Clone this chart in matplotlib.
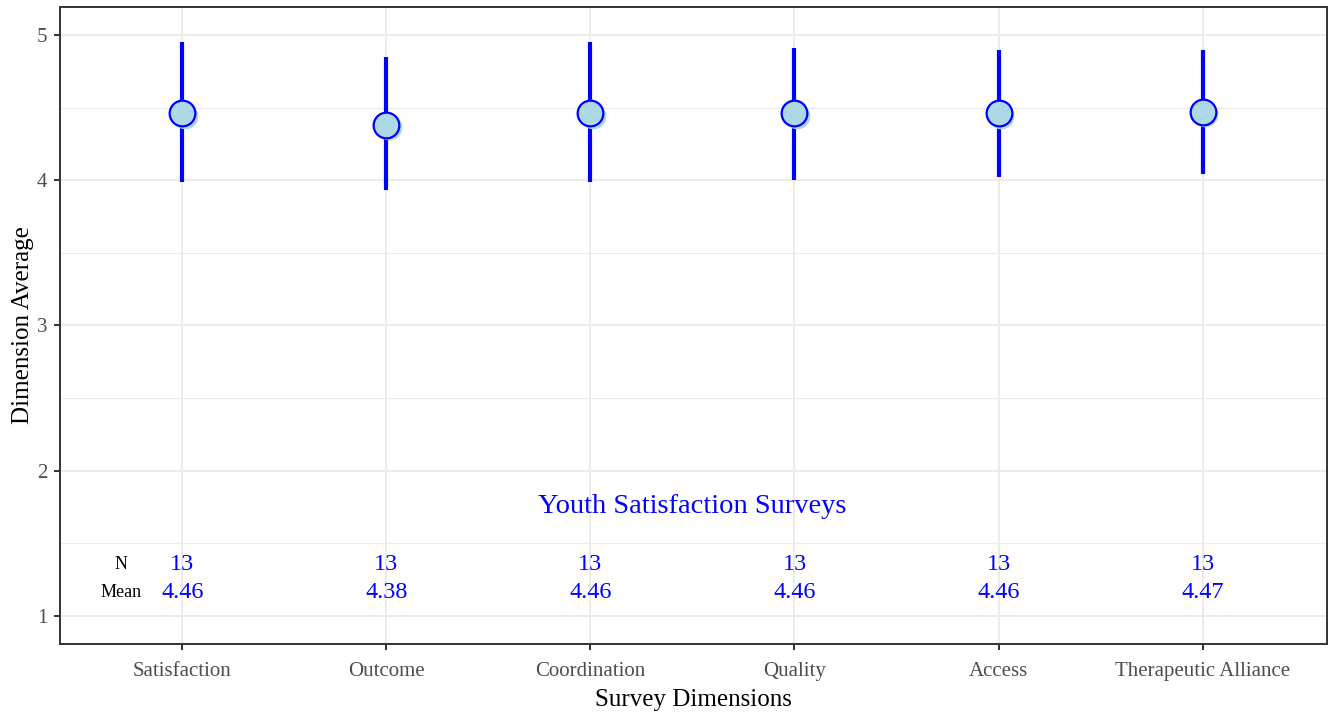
import matplotlib
matplotlib.use("Agg")
import matplotlib.pyplot as plt
import matplotlib.transforms as mtransforms
import numpy as np

# Survey dimension summaries
dimensions = ["Satisfaction", "Outcome", "Coordination", "Quality", "Access",
              "Therapeutic Alliance"]
means = [4.46, 4.38, 4.46, 4.46, 4.46, 4.47]
lower = [3.99, 3.93, 3.99, 4.00, 4.02, 4.04]
upper = [4.95, 4.85, 4.95, 4.91, 4.90, 4.90]
counts = [13, 13, 13, 13, 13, 13]
title_text = "Youth Satisfaction Surveys"

plt.rcParams['font.family'] = ['Liberation Serif', 'DejaVu Serif']

fig = plt.figure(figsize=(13.28, 7.14), dpi=100)
ax = fig.add_axes([60 / 1328, 1 - 644 / 714, 1267 / 1328, 637 / 714])

x = np.arange(1, len(dimensions) + 1)

# grid
for yv in [1, 2, 3, 4, 5]:
    ax.axhline(yv, color="#ebebeb", lw=1.4, zorder=0)
for yv in [1.5, 2.5, 3.5, 4.5]:
    ax.axhline(yv, color="#ebebeb", lw=0.8, zorder=0)
for xv in x:
    ax.axvline(xv, color="#ebebeb", lw=1.4, zorder=0)

# error bars
ax.vlines(x, lower, upper, color="#0000ff", lw=3.0, zorder=2)

# soft shadow behind each point
shadow = mtransforms.offset_copy(ax.transData, fig=fig, x=1.6, y=-1.6, units='points')
ax.plot(x, means, "o", ms=18.5, mfc="#add8e6", mec="#add8e6", mew=0,
        transform=shadow, zorder=3)
ax.plot(x, means, "o", ms=18.5, mfc="#add8e6", mec="#0000ff", mew=1.6, zorder=4)

# N / Mean annotations
for xi, n, m in zip(x, counts, means):
    ax.text(xi, 1.352, f"{n}", color="#0000ff", fontsize=17.5, ha="center", va="center")
    ax.text(xi, 1.160, f"{m:.2f}", color="#0000ff", fontsize=17.5, ha="center", va="center")
ax.text(0.70, 1.352, "N", color="black", fontsize=13, ha="center", va="center")
ax.text(0.70, 1.160, "Mean", color="black", fontsize=13, ha="center", va="center")

ax.text(3.5, 1.755, title_text, color="#0000ff", fontsize=20.5, ha="center", va="center")

ax.set_xlim(0.4, 6.61)
ax.set_ylim(0.807, 5.193)
ax.set_xticks(x)
ax.set_xticklabels(dimensions)
ax.set_yticks([1, 2, 3, 4, 5])
ax.tick_params(axis="both", colors="#333333", length=4, width=1.4,
               labelcolor="#4d4d4d", labelsize=15)
ax.tick_params(axis="x", pad=9)
ax.tick_params(axis="y", pad=5)
for s in ax.spines.values():
    s.set_color("#333333")
    s.set_linewidth(1.4)

ax.set_xlabel("Survey Dimensions", fontsize=18, color="black", labelpad=6)
ax.set_ylabel("Dimension Average", fontsize=18, color="black", labelpad=2)

fig.savefig("out.png", dpi=100)
